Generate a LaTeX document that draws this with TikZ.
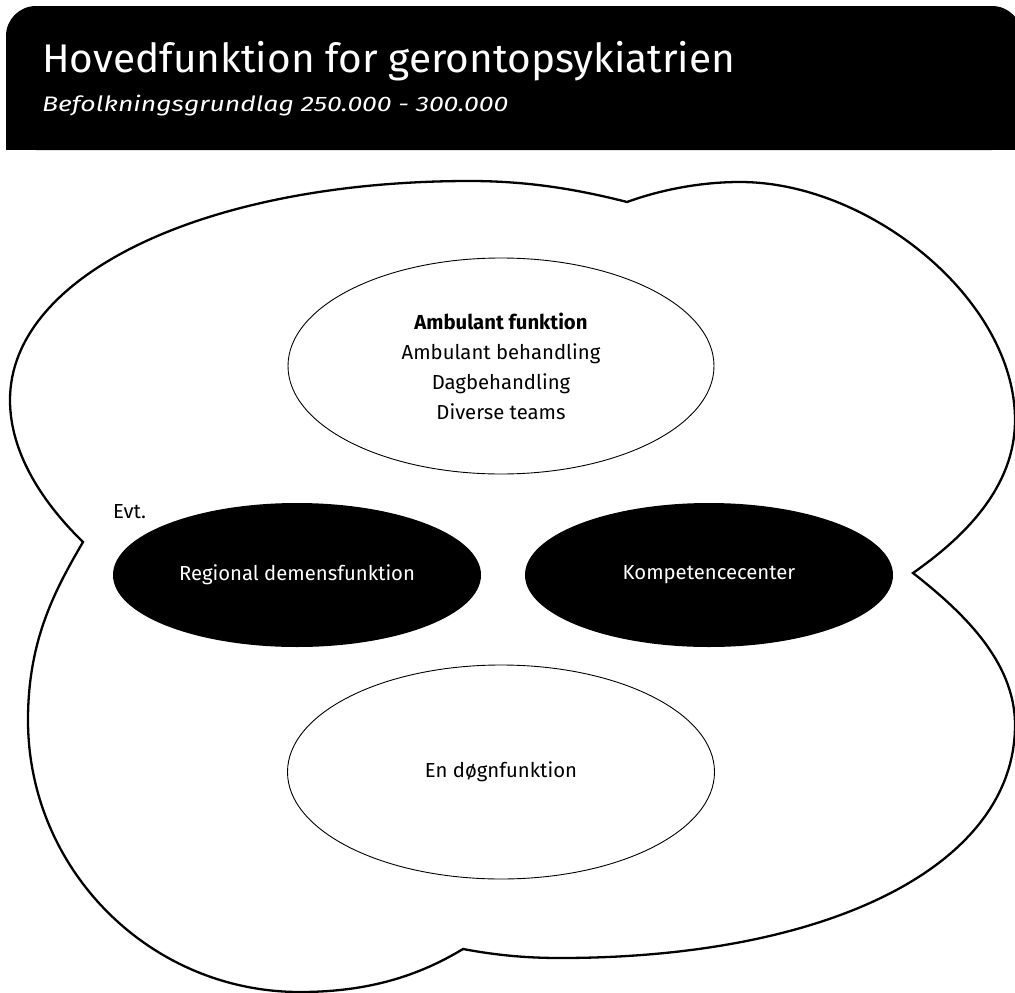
\documentclass[tikz,border=0pt]{standalone}
\usepackage{fontspec}
\setmainfont{Fira Sans}
\usetikzlibrary{shapes.geometric}
\begin{document}
\begin{tikzpicture}[x=1pt,y=-1pt,
  cloudline/.style={draw=black,line width=2.3pt,fill=white,line join=miter},
  lightell/.style={ellipse,draw=black,line width=0.9pt,fill=white,inner sep=0pt},
  darkell/.style={ellipse,fill=black,inner sep=0pt,text=white},
  body/.style={font=\fontsize{20.3}{30}\selectfont,align=center},
  headtext/.style={anchor=base west,text=white,inner sep=0pt}
]
\useasboundingbox (0,0) rectangle (1015,993);
% header
\fill[black,rounded corners=30pt] (6,6) rectangle (1022,150);
\fill[black] (6,100) rectangle (1022,150);
\node[headtext] (title) at (42,72) {\resizebox{693pt}{\height}{\fontsize{40}{44}\selectfont Hovedfunktion for gerontopsykiatrien}};
\node[headtext] (subtitle) at (42,111) {\resizebox{466pt}{\height}{\fontsize{21}{24}\selectfont\itshape Befolkningsgrundlag 250.000 - 300.000}};
% cloud outline: four lobes
\coordinate (cl) at (83,542);
\coordinate (ct) at (627,202);
\coordinate (cr) at (913,573);
\coordinate (cb) at (463,949);
\draw[cloudline]
  (cl) .. controls (45,505) and (10,455) .. (10,400)
       .. controls (10,275) and (205,181) .. (470,181)
       .. controls (530,181) and (580,190) .. (ct)
       .. controls (660,190) and (700,182) .. (740,182)
       .. controls (870,182) and (1015,300) .. (1015,420)
       .. controls (1015,490) and (960,540) .. (cr)
       .. controls (960,610) and (1015,660) .. (1015,725)
       .. controls (1015,865) and (830,958) .. (560,958)
       .. controls (520,958) and (490,954) .. (cb)
       .. controls (420,975) and (370,992) .. (300,992)
       .. controls (150,992) and (28,870) .. (28,720)
       .. controls (28,640) and (55,590) .. (cl)
  -- cycle;
% ellipses
\node[lightell,minimum width=426pt,minimum height=216pt,body] (amb) at (501,366)
  {\textbf{Ambulant funktion}\\Ambulant behandling\\Dagbehandling\\Diverse teams};
\node[darkell,minimum width=368pt,minimum height=144pt,body] (reg) at (297,575) {Regional demensfunktion};
\node[darkell,minimum width=368pt,minimum height=144pt,body] (komp) at (709,575) {Kompetencecenter};
\node[lightell,minimum width=427pt,minimum height=214pt,body] (dogn) at (501,772) {En døgnfunktion};
\node[body,anchor=base west,inner sep=0pt] (evt) at (113,518) {Evt.};
\end{tikzpicture}
\end{document}
